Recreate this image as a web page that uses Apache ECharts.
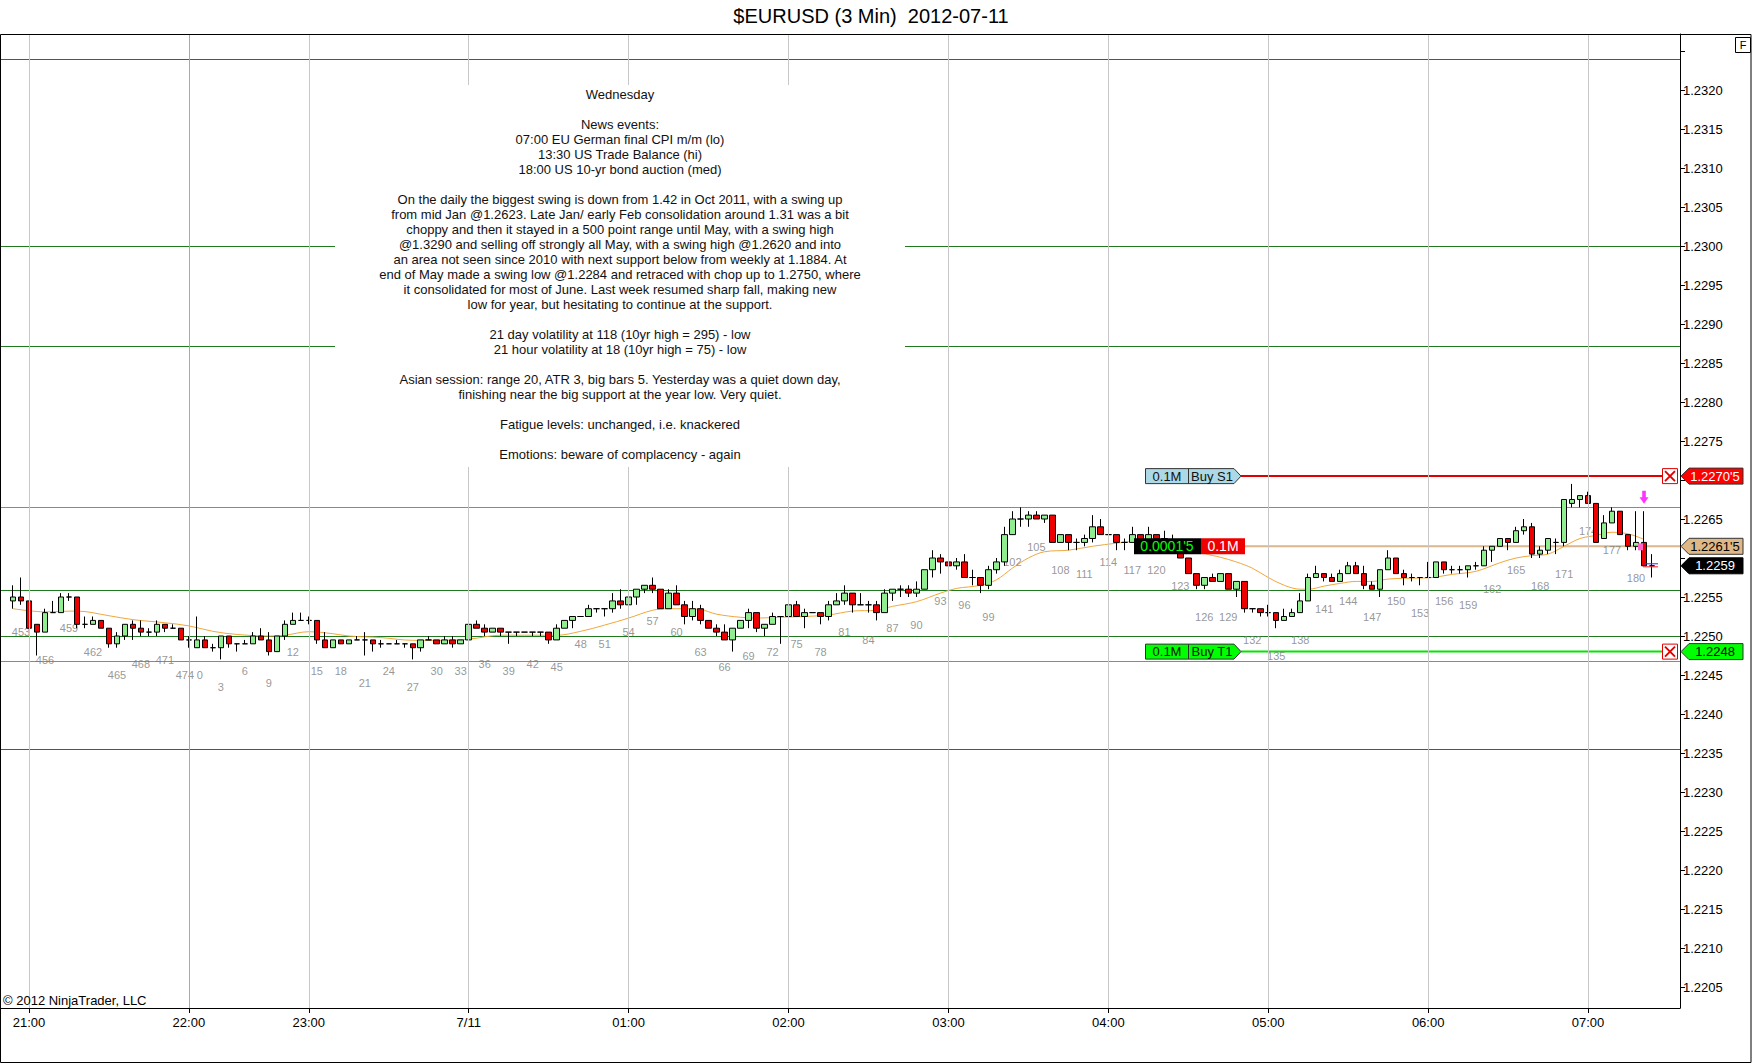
<!DOCTYPE html>
<html>
<head>
<meta charset="utf-8">
<script src="https://cdn.jsdelivr.net/npm/echarts@6/dist/echarts.min.js"></script>
<style>
html,body{margin:0;padding:0;background:#fff;}
#chart{width:1752px;height:1064px;}
</style>
</head>
<body>
<div id="chart"></div>
<script>
// ---------------- DATA ----------------
const titleText = '$EURUSD (3 Min)  2012-07-11';
const firstBar = -23;          // bar index of first candle (bar 0 = first bar of the 22:00 session)
// [open, close, low, high]
const candles = [
[1.22545,1.22550,1.22535,1.22565],[1.22550,1.22545,1.22540,1.22575],[1.22545,1.22510,1.22510,1.22545],
[1.22515,1.22505,1.22475,1.22515],[1.22505,1.22530,1.22505,1.22535],[1.22530,1.22530,1.22530,1.22545],
[1.22530,1.22550,1.22530,1.22555],[1.22550,1.22550,1.22545,1.22555],[1.22550,1.22515,1.22510,1.22550],
[1.22515,1.22515,1.22510,1.22525],[1.22515,1.22520,1.22515,1.22525],[1.22520,1.22510,1.22510,1.22520],
[1.22510,1.22490,1.22485,1.22510],[1.22490,1.22500,1.22485,1.22505],[1.22500,1.22515,1.22495,1.22515],
[1.22515,1.22510,1.22495,1.22520],[1.22510,1.22505,1.22500,1.22520],[1.22505,1.22505,1.22500,1.22510],
[1.22505,1.22515,1.22500,1.22520],[1.22515,1.22510,1.22505,1.22515],[1.22510,1.22510,1.22510,1.22515],
[1.22510,1.22495,1.22495,1.22510],[1.22495,1.22495,1.22485,1.22500],
// bar 0
[1.22485,1.22495,1.22485,1.22525],[1.22495,1.22485,1.22485,1.22500],[1.22485,1.22485,1.22480,1.22490],
[1.22485,1.22500,1.22470,1.22500],[1.22500,1.22490,1.22485,1.22500],[1.22490,1.22490,1.22480,1.22490],
[1.22490,1.22490,1.22490,1.22495],[1.22490,1.22500,1.22490,1.22505],[1.22500,1.22495,1.22495,1.22510],
[1.22495,1.22480,1.22475,1.22505],[1.22480,1.22500,1.22480,1.22500],[1.22500,1.22515,1.22495,1.22520],
[1.22515,1.22520,1.22515,1.22530],[1.22520,1.22520,1.22520,1.22530],[1.22520,1.22520,1.22515,1.22525],
[1.22520,1.22495,1.22490,1.22520],[1.22495,1.22485,1.22485,1.22505],[1.22485,1.22495,1.22485,1.22495],
[1.22495,1.22490,1.22490,1.22495],[1.22490,1.22495,1.22490,1.22495],[1.22495,1.22495,1.22495,1.22500],
[1.22495,1.22495,1.22475,1.22505],[1.22495,1.22490,1.22480,1.22495],[1.22490,1.22490,1.22485,1.22495],
[1.22490,1.22490,1.22490,1.22490],[1.22490,1.22490,1.22490,1.22495],[1.22490,1.22490,1.22485,1.22490],
[1.22490,1.22485,1.22470,1.22490],[1.22485,1.22495,1.22480,1.22495],[1.22495,1.22495,1.22495,1.22500],
[1.22495,1.22490,1.22490,1.22495],[1.22490,1.22495,1.22490,1.22500],[1.22495,1.22490,1.22485,1.22500],
[1.22490,1.22495,1.22490,1.22495],[1.22495,1.22515,1.22495,1.22515],[1.22515,1.22510,1.22510,1.22520],
[1.22510,1.22505,1.22500,1.22515],[1.22505,1.22510,1.22505,1.22510],[1.22510,1.22505,1.22500,1.22510],
[1.22505,1.22505,1.22490,1.22505],[1.22505,1.22505,1.22500,1.22505],[1.22505,1.22505,1.22505,1.22505],
[1.22505,1.22505,1.22500,1.22505],[1.22505,1.22505,1.22500,1.22505],[1.22505,1.22495,1.22490,1.22505],
[1.22495,1.22510,1.22495,1.22515],[1.22510,1.22520,1.22510,1.22520],[1.22520,1.22525,1.22510,1.22525],
[1.22525,1.22525,1.22525,1.22525],[1.22525,1.22535,1.22525,1.22540],[1.22535,1.22535,1.22530,1.22535],
[1.22535,1.22535,1.22525,1.22535],[1.22535,1.22545,1.22530,1.22555],[1.22545,1.22540,1.22535,1.22560],
[1.22540,1.22550,1.22540,1.22550],[1.22550,1.22560,1.22540,1.22560],[1.22560,1.22565,1.22555,1.22565],
[1.22565,1.22560,1.22555,1.22575],[1.22560,1.22535,1.22535,1.22560],[1.22535,1.22555,1.22535,1.22560],
[1.22555,1.22540,1.22540,1.22565],[1.22540,1.22525,1.22515,1.22545],[1.22525,1.22535,1.22520,1.22545],
[1.22535,1.22520,1.22515,1.22540],[1.22520,1.22510,1.22510,1.22520],[1.22510,1.22505,1.22500,1.22515],
[1.22505,1.22495,1.22495,1.22515],[1.22495,1.22510,1.22480,1.22510],[1.22510,1.22520,1.22510,1.22520],
[1.22520,1.22530,1.22510,1.22535],[1.22530,1.22510,1.22505,1.22530],[1.22510,1.22515,1.22500,1.22515],
[1.22515,1.22525,1.22515,1.22530],[1.22525,1.22525,1.22490,1.22525],[1.22525,1.22540,1.22525,1.22550],
[1.22540,1.22525,1.22525,1.22545],[1.22525,1.22530,1.22510,1.22535],[1.22530,1.22530,1.22530,1.22530],
[1.22530,1.22525,1.22515,1.22530],[1.22525,1.22540,1.22520,1.22545],[1.22540,1.22545,1.22540,1.22555],
[1.22545,1.22555,1.22540,1.22565],[1.22555,1.22540,1.22530,1.22555],[1.22540,1.22540,1.22540,1.22555],
[1.22540,1.22540,1.22530,1.22545],[1.22540,1.22530,1.22520,1.22545],[1.22530,1.22555,1.22530,1.22560],
[1.22555,1.22560,1.22545,1.22560],[1.22560,1.22560,1.22550,1.22565],[1.22560,1.22555,1.22550,1.22565],
[1.22555,1.22560,1.22550,1.22570],[1.22560,1.22585,1.22560,1.22585],[1.22585,1.22600,1.22575,1.22610],
[1.22600,1.22595,1.22580,1.22605],[1.22595,1.22590,1.22580,1.22600],[1.22590,1.22595,1.22585,1.22600],
[1.22595,1.22575,1.22575,1.22605],[1.22575,1.22575,1.22565,1.22585],[1.22575,1.22565,1.22555,1.22575],
[1.22565,1.22585,1.22560,1.22590],[1.22585,1.22595,1.22580,1.22600],[1.22595,1.22630,1.22590,1.22640],
[1.22630,1.22650,1.22630,1.22660],[1.22650,1.22650,1.22640,1.22665],[1.22650,1.22655,1.22640,1.22660],
[1.22655,1.22650,1.22650,1.22660],[1.22650,1.22655,1.22645,1.22655],[1.22655,1.22620,1.22620,1.22655],
[1.22620,1.22630,1.22620,1.22630],[1.22630,1.22620,1.22610,1.22630],[1.22620,1.22620,1.22610,1.22625],
[1.22620,1.22625,1.22615,1.22630],[1.22625,1.22640,1.22620,1.22655],[1.22640,1.22630,1.22630,1.22650],
[1.22630,1.22630,1.22630,1.22630],[1.22630,1.22620,1.22610,1.22630],[1.22620,1.22620,1.22610,1.22625],
[1.22620,1.22630,1.22620,1.22640],[1.22630,1.22620,1.22615,1.22630],[1.22620,1.22630,1.22615,1.22640],
[1.22630,1.22625,1.22620,1.22630],[1.22625,1.22620,1.22615,1.22635],[1.22620,1.22610,1.22610,1.22630],
[1.22610,1.22600,1.22600,1.22610],[1.22600,1.22580,1.22580,1.22600],[1.22580,1.22565,1.22560,1.22580],
[1.22565,1.22575,1.22560,1.22575],[1.22575,1.22570,1.22570,1.22580],[1.22570,1.22580,1.22570,1.22580],
[1.22580,1.22560,1.22560,1.22580],[1.22560,1.22570,1.22550,1.22570],[1.22570,1.22535,1.22530,1.22570],
[1.22535,1.22535,1.22530,1.22535],[1.22535,1.22530,1.22525,1.22535],[1.22530,1.22530,1.22525,1.22540],
[1.22530,1.22520,1.22510,1.22530],[1.22520,1.22525,1.22520,1.22535],[1.22525,1.22530,1.22525,1.22535],
[1.22530,1.22545,1.22530,1.22555],[1.22545,1.22575,1.22545,1.22580],[1.22575,1.22580,1.22575,1.22590],
[1.22580,1.22575,1.22570,1.22580],[1.22575,1.22570,1.22570,1.22580],[1.22570,1.22580,1.22570,1.22585],
[1.22580,1.22590,1.22580,1.22595],[1.22590,1.22580,1.22580,1.22595],[1.22580,1.22565,1.22560,1.22590],
[1.22565,1.22560,1.22560,1.22570],[1.22560,1.22585,1.22550,1.22585],[1.22585,1.22600,1.22585,1.22610],
[1.22600,1.22580,1.22580,1.22600],[1.22580,1.22575,1.22565,1.22585],[1.22575,1.22575,1.22570,1.22580],
[1.22575,1.22575,1.22565,1.22575],[1.22575,1.22575,1.22575,1.22595],[1.22575,1.22595,1.22575,1.22595],
[1.22595,1.22585,1.22580,1.22595],[1.22585,1.22585,1.22580,1.22590],[1.22585,1.22585,1.22580,1.22590],
[1.22585,1.22590,1.22575,1.22590],[1.22590,1.22590,1.22585,1.22595],[1.22590,1.22610,1.22590,1.22615],
[1.22610,1.22615,1.22595,1.22615],[1.22615,1.22625,1.22615,1.22625],[1.22625,1.22620,1.22610,1.22625],
[1.22620,1.22635,1.22620,1.22640],[1.22635,1.22640,1.22630,1.22650],[1.22640,1.22605,1.22600,1.22645],
[1.22605,1.22610,1.22600,1.22615],[1.22610,1.22625,1.22605,1.22625],[1.22620,1.22620,1.22605,1.22625],
[1.22620,1.22675,1.22615,1.22675],[1.22670,1.22675,1.22665,1.22695],[1.22675,1.22680,1.22665,1.22680],
[1.22680,1.22670,1.22670,1.22685],[1.22670,1.22620,1.22620,1.22670],[1.22625,1.22645,1.22625,1.22655],
[1.22645,1.22660,1.22645,1.22665],[1.22660,1.22630,1.22630,1.22660],[1.22630,1.22615,1.22610,1.22630],
[1.22615,1.22620,1.22610,1.22660],[1.22620,1.22590,1.22590,1.22660],[1.22590,1.22590,1.22575,1.22605]
];
// moving average: [bar, price]
const emaPoints = [
[-23,1.22535],[-19,1.22531],[-15,1.22532],[-11,1.22526],[-8,1.22521],[-4,1.22517],[-1,1.22513],
[2,1.22506],[5,1.22502],[9,1.22500],[11,1.22501],[14,1.225055],[17,1.22503],[19,1.22500],[23,1.22498],
[27,1.224945],[30,1.224945],[34,1.22496],[38,1.22501],[42,1.22501],[45,1.22501],[48,1.22506],[51,1.22514],
[54,1.22523],[57,1.22533],[59,1.22535],[61,1.22535],[63,1.22534],[65,1.22528],[68,1.22524],[70,1.22523],
[73,1.22524],[76,1.22525],[79,1.22527],[82,1.22532],[85,1.22533],[87,1.22538],[90,1.22544],[93,1.22555],
[95,1.22561],[98,1.22565],[100,1.22572],[102,1.22587],[104,1.22600],[106,1.22608],[109,1.22610],[112,1.22615],
[115,1.22619],[117,1.22621],[121,1.22620],[123,1.22617],[125,1.22612],[126,1.22606],[128,1.22601],[130,1.22595],
[132,1.22587],[134,1.22575],[136,1.22565],[138,1.22560],[139,1.22560],[141,1.22564],[143,1.225675],[145,1.22570],
[147,1.22570],[149,1.22573],[151,1.22574],[154,1.225745],[157,1.22579],[160,1.22583],[163,1.22594],[165,1.22600],
[167,1.22603],[169,1.22605],[171,1.22615],[173,1.22625],[175,1.22629],[177,1.22633],[179,1.22631],[181,1.22624]
];
const hourTicks = [[-21,'21:00'],[-1,'22:00'],[14,'23:00'],[34,'7/11'],[54,'01:00'],[74,'02:00'],[94,'03:00'],[114,'04:00'],[134,'05:00'],[154,'06:00'],[174,'07:00']];
const sessionBreakBar = -1;
const greenLevels = [1.2324, 1.2300, 1.22872, 1.22559, 1.2250, 1.22355];
const tealLevels = [1.22665, 1.22468];
const yTicks = [1.2205,1.2210,1.2215,1.2220,1.2225,1.2230,1.2235,1.2240,1.2245,1.2250,1.2255,1.2260,1.2265,1.2270,1.2275,1.2280,1.2285,1.2290,1.2295,1.2300,1.2305,1.2310,1.2315,1.2320,1.2325];
// 1.2260 and 1.2270 are hidden behind the price tags in the reference
const yTickLabels = [1.2205,1.2210,1.2215,1.2220,1.2225,1.2230,1.2235,1.2240,1.2245,1.2250,1.2255,1.2265,1.2275,1.2280,1.2285,1.2290,1.2295,1.2300,1.2305,1.2310,1.2315,1.2320];
const orders = [
  {qty:'0.1M', name:'Buy S1', price:1.22705, line:'#e00000', fill:'#add8e6', tag:'#ff0000', tagText:'#fff'},
  {qty:'0.1M', name:'Buy T1', price:1.2248,  line:'#00e600', fill:'#00ff00', tag:'#00ff00', tagText:'#000'}
];
const position = {price:1.22615, pnl:"0.0001'5", qty:'0.1M', entryBar:181};
const lastPrice = 1.2259;
const lastBar = 182;
const arrowMarks = [[181, 1.22678]];
const noteText = [
'Wednesday','',
'News events:',
'07:00 EU German final CPI m/m (lo)',
'13:30 US Trade Balance (hi)',
'18:00 US 10-yr bond auction (med)','',
'On the daily the biggest swing is down from 1.42 in Oct 2011, with a swing up',
'from mid Jan @1.2623. Late Jan/ early Feb consolidation around 1.31 was a bit',
'choppy and then it stayed in a 500 point range until May, with a swing high',
'@1.3290 and selling off strongly all May, with a swing high @1.2620 and into',
'an area not seen since 2010 with next support below from weekly at 1.1884. At',
'end of May made a swing low @1.2284 and retraced with chop up to 1.2750, where',
'it consolidated for most of June. Last week resumed sharp fall, making new',
'low for year, but hesitating to continue at the support.','',
'21 day volatility at 118 (10yr high = 295) - low',
'21 hour volatility at 18 (10yr high = 75) - low','',
'Asian session: range 20, ATR 3, big bars 5. Yesterday was a quiet down day,',
'finishing near the big support at the year low. Very quiet.','',
'Fatigue levels: unchanged, i.e. knackered','',
'Emotions: beware of complacency - again'
];

// ---------------- BUILD ----------------
const FONT = 'Liberation Sans, Arial, sans-serif';
const catStart = -24, catEnd = 185;
const categories = [];
for (let i = catStart; i <= catEnd; i++) categories.push(String(i));
const ci = b => b - catStart;
const hourMap = {};
hourTicks.forEach(t => { hourMap[String(t[0])] = t[1]; });

const candleData = candles.map((c, k) => [ci(firstBar + k), c[0], c[1], c[2], c[3]]);
const emaData = emaPoints.map(p => [ci(p[0]), p[1]]);
const numLabels = [];
for (let k = 0; k < candles.length; k++) {
  const b = firstBar + k;
  const show = b < 0 ? ((b + 22) % 3 === 0) : (b % 3 === 0);
  if (!(show && b >= -22)) continue;
  const item = {value: [ci(b), candles[k][2], String(b < 0 ? 475 + b : b)]};
  // the last label of the previous session and bar "0" sit side by side
  if (b === -1) item.label = {offset: [-4, 0]};
  if (b === 0) item.label = {offset: [3, 0]};
  numLabels.push(item);
}

const vLines = hourTicks.map(t => ({
  xAxis: ci(t[0]),
  lineStyle: {color: t[0] === sessionBreakBar ? '#f0a30a' : '#c8c8c8', width: 1, type: 'solid'}
}));

const chart = echarts.init(document.getElementById('chart'), null, {renderer: 'svg'});
const option = {
  animation: false,
  backgroundColor: '#fff',
  textStyle: {fontFamily: FONT},
  grid: {left: 1, right: 72, top: 34, bottom: 56, containLabel: false},
  xAxis: {
    type: 'category', data: categories, boundaryGap: true,
    axisLine: {lineStyle: {color: '#000', width: 1}},
    axisTick: {show: true, alignWithLabel: true, length: 5, lineStyle: {color: '#000'},
      interval: (idx, val) => hourMap.hasOwnProperty(val)},
    axisLabel: {interval: (idx, val) => hourMap.hasOwnProperty(val),
      formatter: v => hourMap[v] || '', color: '#000', fontSize: 13, fontFamily: FONT, margin: 8},
    splitLine: {show: false}
  },
  yAxis: {
    type: 'value', position: 'right', scale: true,
    min: 1.220231, max: 1.232718,
    axisLine: {show: true, lineStyle: {color: '#000', width: 1}},
    axisTick: {show: true, length: 5, lineStyle: {color: '#000'}, customValues: yTicks},
    axisLabel: {customValues: yTickLabels, formatter: v => Number(v).toFixed(4), color: '#000', fontSize: 13, fontFamily: FONT, margin: 3},
    splitLine: {show: false}
  },
  series: [
    {
      type: 'line', name: 'EMA', data: emaData, smooth: 0.35, symbol: 'none', z: 1,
      lineStyle: {color: '#f2a73a', width: 1},
      markLine: {silent: true, symbol: ['none', 'none'], label: {show: false}, animation: false,
        emphasis: {disabled: true}, data: vLines}
    },
    {
      type: 'scatter', name: 'barnums', data: numLabels, symbolSize: 0, z: 1, silent: true,
      label: {show: true, position: 'bottom', distance: 22, color: '#7c7c7c', fontSize: 11, fontFamily: FONT,
        formatter: p => p.value[2]}
    },
    {
      type: 'candlestick', name: '$EURUSD', data: candleData, encode: {x: 0, y: [1, 2, 3, 4]},
      barWidth: 6, z: 2,
      itemStyle: {color: '#90ee90', color0: '#ee0000', borderColor: '#000', borderColor0: '#000', borderColorDoji: '#000', borderWidth: 1}
    },
    {
      type: 'scatter', name: 'signal', data: arrowMarks.map(a => [ci(a[0]), a[1]]), z: 4,
      symbol: 'path://M3,0 L7,0 L7,6 L10,6 L5,12 L0,6 L3,6 Z', symbolSize: [9, 13],
      itemStyle: {color: '#ff00ff'}
    }
  ]
};
chart.setOption(option);

// ---------------- OVERLAYS ----------------
const py = v => chart.convertToPixel({yAxisIndex: 0}, v);
const px = b => chart.convertToPixel({xAxisIndex: 0}, ci(b));
const fmtPrice = v => {
  const half = Math.round(v * 100000) % 10 === 5;
  const base = (Math.floor(v * 10000 + 1e-6) / 10000).toFixed(4);
  return half ? base + "'5" : base;
};
const G = [];
// horizontal study levels (y from the value axis)
greenLevels.forEach(v => {
  const y = Math.round(py(v)) + 0.5;
  G.push({type: 'line', shape: {x1: 1, y1: y, x2: 1680, y2: y}, style: {stroke: '#1f7a1f', lineWidth: 1}, z: 1});
});
tealLevels.forEach(v => {
  const y = Math.round(py(v)) + 0.5;
  G.push({type: 'line', shape: {x1: 1, y1: y, x2: 1680, y2: y}, style: {stroke: '#3fa9a9', lineWidth: 1}, z: 1});
});
// frame
G.push({type: 'rect', shape: {x: 0.5, y: 34.5, width: 1750.5, height: 1028}, style: {fill: 'none', stroke: '#000', lineWidth: 1}, z: 120});
// title
G.push({type: 'text', x: 871, y: 16, style: {text: titleText, font: '20px ' + FONT, fill: '#000', align: 'center', verticalAlign: 'middle'}, z: 120});
// F box
G.push({type: 'rect', shape: {x: 1735.5, y: 37.5, width: 15, height: 15}, style: {fill: '#fff', stroke: '#000', lineWidth: 1}, z: 120});
G.push({type: 'text', x: 1743, y: 45, style: {text: 'F', font: '11px ' + FONT, fill: '#000', align: 'center', verticalAlign: 'middle'}, z: 121});
// copyright
G.push({type: 'text', x: 3, y: 1000, style: {text: '\u00a9 2012 NinjaTrader, LLC', font: '13px ' + FONT, fill: '#000', align: 'left', verticalAlign: 'middle'}, z: 120});
// note box
G.push({type: 'rect', shape: {x: 335, y: 85, width: 570, height: 382}, style: {fill: '#fff'}, z: 50});
G.push({type: 'text', x: 620, y: 87, style: {text: noteText.join('\n'), font: '13px ' + FONT, lineHeight: 15, fill: '#111', align: 'center', verticalAlign: 'top'}, z: 51});

function rightTag(price, fill, txtColor) {
  const y = py(price);
  G.push({type: 'polygon', shape: {points: [[1681, y], [1689, y - 8], [1743, y - 8], [1743, y + 8], [1689, y + 8]]},
    style: {fill: fill, stroke: fill === '#000' ? '#000' : '#333', lineWidth: 1}, z: 110});
  G.push({type: 'text', x: 1715, y: y, style: {text: fmtPrice(price), font: '13px ' + FONT, fill: txtColor, align: 'center', verticalAlign: 'middle'}, z: 111});
}
function xBox(y) {
  G.push({type: 'rect', shape: {x: 1662.5, y: y - 7.5, width: 15, height: 15}, style: {fill: '#fff', stroke: '#e00000', lineWidth: 1}, z: 110});
  G.push({type: 'line', shape: {x1: 1665, y1: y - 5, x2: 1675, y2: y + 5}, style: {stroke: '#e00000', lineWidth: 2}, z: 111});
  G.push({type: 'line', shape: {x1: 1675, y1: y - 5, x2: 1665, y2: y + 5}, style: {stroke: '#e00000', lineWidth: 2}, z: 111});
}
orders.forEach(o => {
  const y = py(o.price);
  G.push({type: 'line', shape: {x1: 1241, y1: y, x2: 1662, y2: y}, style: {stroke: o.line, lineWidth: 2}, z: 1});
  G.push({type: 'polygon', shape: {points: [[1145.5, y - 7.5], [1234, y - 7.5], [1241, y], [1234, y + 7.5], [1145.5, y + 7.5]]},
    style: {fill: o.fill, stroke: '#333', lineWidth: 1}, z: 110});
  G.push({type: 'line', shape: {x1: 1188.5, y1: y - 7.5, x2: 1188.5, y2: y + 7.5}, style: {stroke: '#333', lineWidth: 1}, z: 111});
  G.push({type: 'text', x: 1167, y: y, style: {text: o.qty, font: '13px ' + FONT, fill: '#111', align: 'center', verticalAlign: 'middle'}, z: 111});
  G.push({type: 'text', x: 1212, y: y, style: {text: o.name, font: '13px ' + FONT, fill: '#111', align: 'center', verticalAlign: 'middle'}, z: 111});
  xBox(y);
  rightTag(o.price, o.tag, o.tagText);
});
// position line
(function () {
  const y = py(position.price);
  G.push({type: 'line', shape: {x1: 1245, y1: y, x2: 1680, y2: y}, style: {stroke: '#d8b88c', lineWidth: 2}, z: 1});
  G.push({type: 'rect', shape: {x: 1134, y: y - 8, width: 67, height: 16}, style: {fill: '#000'}, z: 110});
  G.push({type: 'rect', shape: {x: 1201, y: y - 8, width: 44, height: 16}, style: {fill: '#ee0000'}, z: 110});
  G.push({type: 'text', x: 1167, y: y, style: {text: position.pnl, font: '14px ' + FONT, fill: '#00ff00', align: 'center', verticalAlign: 'middle'}, z: 111});
  G.push({type: 'text', x: 1223, y: y, style: {text: position.qty, font: '14px ' + FONT, fill: '#fff', align: 'center', verticalAlign: 'middle'}, z: 111});
  // entry marker
  const ex = px(position.entryBar);
  G.push({type: 'rect', shape: {x: ex - 6, y: y - 3, width: 5, height: 7}, style: {fill: '#ff66cc'}, z: 5});
  rightTag(position.price, '#deb887', '#000');
})();
// last-price marker on the forming bar
(function () {
  const y = py(lastPrice), x = px(lastBar);
  G.push({type: 'line', shape: {x1: x - 9, y1: y - 2, x2: x + 6, y2: y - 2}, style: {stroke: '#2030ff', lineWidth: 1}, z: 5});
  G.push({type: 'line', shape: {x1: x - 9, y1: y + 1, x2: x + 6, y2: y + 1}, style: {stroke: '#ff2020', lineWidth: 1}, z: 5});
})();
rightTag(lastPrice, '#000', '#fff');

chart.setOption({graphic: {elements: G}});
</script>
</body>
</html>
